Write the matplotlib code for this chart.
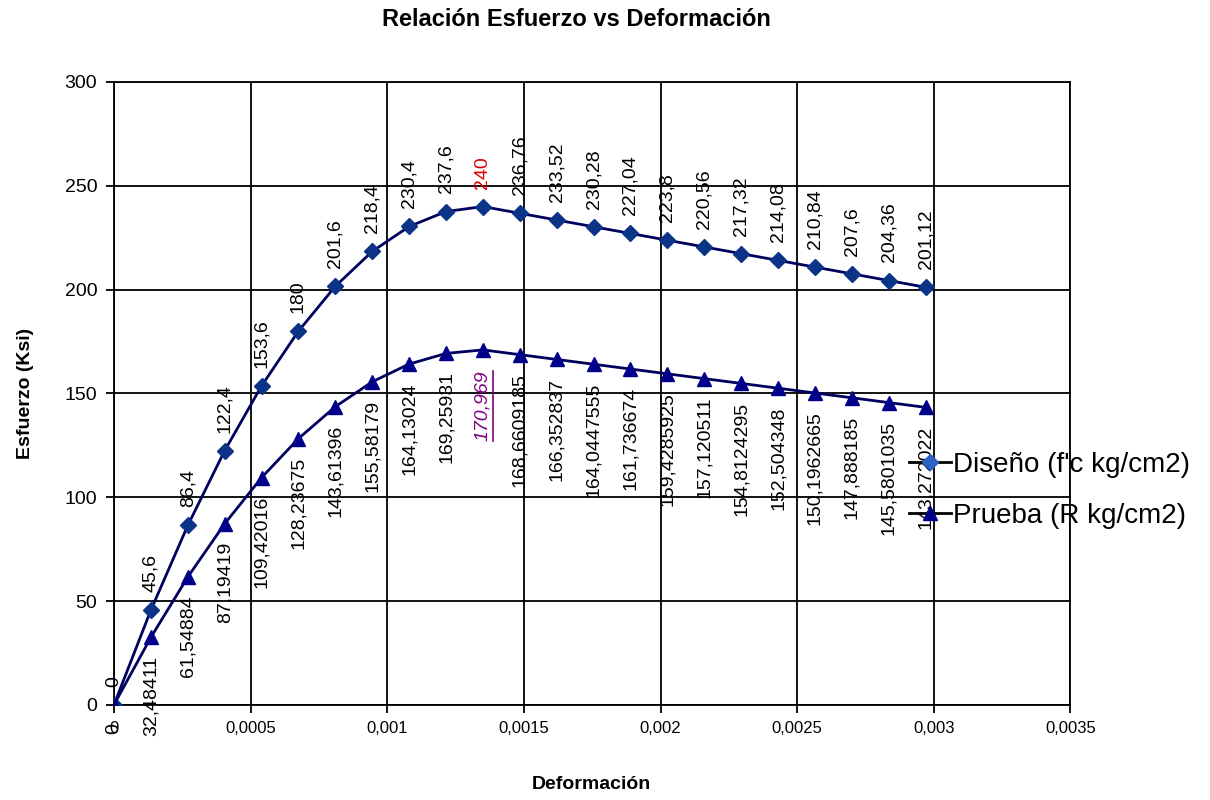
import matplotlib
matplotlib.use("Agg")
import matplotlib.pyplot as plt
from matplotlib.lines import Line2D

plt.rcParams['font.family'] = ['Liberation Sans', 'DejaVu Sans']

# deformación (eje x)
deformacion = [0, 0.000135, 0.00027, 0.000405, 0.00054, 0.000675, 0.00081, 0.000945,
               0.00108, 0.001215, 0.00135, 0.001485, 0.00162, 0.001755, 0.00189,
               0.002025, 0.00216, 0.002295, 0.00243, 0.002565, 0.0027, 0.002835, 0.00297]

# esfuerzo de diseño
diseno = [0, 45.6, 86.4, 122.4, 153.6, 180, 201.6, 218.4, 230.4, 237.6, 240, 236.76,
          233.52, 230.28, 227.04, 223.8, 220.56, 217.32, 214.08, 210.84, 207.6, 204.36, 201.12]

# esfuerzo de prueba
prueba = [0, 32.48411, 61.54884, 87.19419, 109.42016, 128.23675, 143.61396, 155.58179,
          164.13024, 169.25931, 170.969, 168.6609185, 166.352837, 164.0447555, 161.736674,
          159.4285925, 157.120511, 154.8124295, 152.504348, 150.1962665, 147.888185,
          145.5801035, 143.272022]

x_ticks = [0, 0.0005, 0.001, 0.0015, 0.002, 0.0025, 0.003, 0.0035]
x_tick_labels = ["0", "0,0005", "0,001", "0,0015", "0,002", "0,0025", "0,003", "0,0035"]
y_ticks = [0, 50, 100, 150, 200, 250, 300]

nombres = ["Diseño (f'c kg/cm2)", "Prueba (R kg/cm2)"]


def etiqueta(v):
    # formato general con coma decimal
    return ("%.10g" % v).replace(".", ",")


fig = plt.figure(figsize=(12.1, 8), dpi=100)
ax = fig.add_axes([0.0942, 0.119, 0.7905, 0.7785])

ax.plot(deformacion, diseno, color='#00005e', lw=2, marker='D', ms=8,
        mfc='#0b3488', mec='#0b3488', zorder=3)
ax.plot(deformacion, prueba, color='#00005e', lw=2, marker='^', ms=10,
        mfc='#00008b', mec='#00008b', zorder=3)

# etiquetas de datos
for x, y in zip(deformacion, diseno):
    c = '#e00000' if y == max(diseno) else 'black'
    ax.annotate(etiqueta(y), (x, y), xytext=(0, 13), textcoords='offset points',
                rotation=90, ha='center', va='bottom', fontsize=14, color=c)

marcado = None
for x, y in zip(deformacion, prueba):
    if y == max(prueba):
        marcado = ax.annotate(etiqueta(y), (x, y), xytext=(0, -15), textcoords='offset points',
                              rotation=90, ha='center', va='top', fontsize=14,
                              color='#800080', style='italic')
    else:
        ax.annotate(etiqueta(y), (x, y), xytext=(0, -13), textcoords='offset points',
                    rotation=90, ha='center', va='top', fontsize=14, color='black')

ax.set_xlim(0, 0.0035)
ax.set_ylim(0, 300)
ax.set_xticks(x_ticks)
ax.set_xticklabels(x_tick_labels, fontsize=12)
ax.set_yticks(y_ticks)
ax.set_yticklabels([str(v) for v in y_ticks], fontsize=14)
ax.tick_params(direction='out', length=6, width=1.3, color='black', pad=6)
ax.grid(True, color='black', lw=1.3)
ax.set_axisbelow(True)
for s in ax.spines.values():
    s.set_color('black')
    s.set_linewidth(1.3)

fig.text(0.476, 0.976, "Relación Esfuerzo vs Deformación", ha='center', va='center',
         fontsize=17, fontweight='bold')
fig.text(0.489, 0.019, "Deformación", ha='center', va='center', fontsize=14, fontweight='bold')
fig.text(0.021, 0.508, "Esfuerzo (Ksi)", ha='center', va='center', rotation=90,
         fontsize=14, fontweight='bold')

handles = [
    Line2D([], [], color='black', lw=2, marker='D', ms=8, mfc='#2a62c4', mec='#2a62c4'),
    Line2D([], [], color='black', lw=2, marker='^', ms=10, mfc='#00008b', mec='#00008b'),
]
fig.legend(handles, nombres, loc='center left', bbox_to_anchor=(0.742, 0.387),
           frameon=False, fontsize=20, handlelength=1.5, handletextpad=0.1,
           labelspacing=0.9, borderaxespad=0)

# subrayado de la etiqueta del máximo de prueba
fig.canvas.draw()
bb = marcado.get_window_extent(fig.canvas.get_renderer())
inv = fig.transFigure.inverted()
(x0, y0), (x1, y1) = inv.transform([[bb.x0, bb.y0], [bb.x1, bb.y1]])
fig.add_artist(Line2D([x1 + 0.001, x1 + 0.001], [y0, y1], color='#800080', lw=1.2))

fig.savefig("out.png", dpi=100)
